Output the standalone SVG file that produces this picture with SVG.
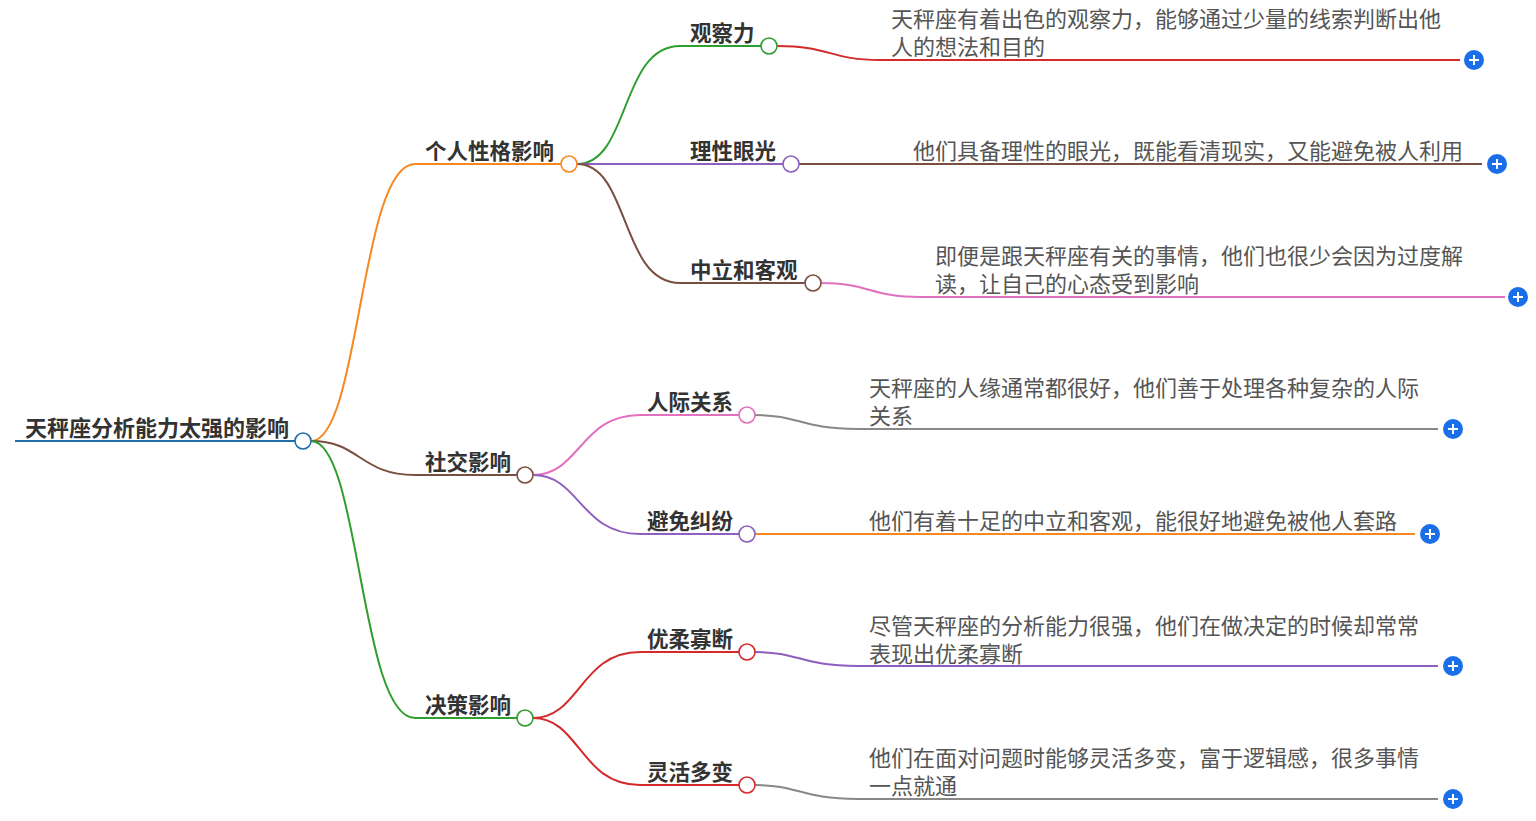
<svg xmlns="http://www.w3.org/2000/svg" width="1536" height="821" viewBox="0 0 1536 821">
<style>
.t1{font:bold 22px "Noto Sans CJK SC","Noto Sans",sans-serif;fill:#333}
.t2{font:bold 21.5px "Noto Sans CJK SC","Noto Sans",sans-serif;fill:#333}
.d{font:22px "Noto Sans CJK SC","Noto Sans",sans-serif;fill:#555}
.c{fill:#fff;stroke-width:1.6}
path{fill:none;stroke-width:2}
</style>
<rect width="1536" height="821" fill="#fff"/>
<g id="connectors">
<path d="M15 441H295" stroke="#1f6fa8" stroke-width="4"/>
<path d="M311 441C360 441 360 164 415 164H561" stroke="#f5891f"/>
<path d="M311 441C360 441 360 475 415 475H517" stroke="#7a4f3f"/>
<path d="M311 441C360 441 360 718 415 718H517" stroke="#2e9e2e"/>
<path d="M577 164C630 164 620 46 680 46H761" stroke="#2e9e2e"/>
<path d="M577 164H783" stroke="#8e5fbf"/>
<path d="M577 164C630 164 620 283 680 283H805" stroke="#7a4f3f"/>
<path d="M533 475C580 475 580 415 640 415H739" stroke="#e36fbf"/>
<path d="M533 475C580 475 580 534 640 534H739" stroke="#8e5fbf"/>
<path d="M533 718C580 718 580 652 640 652H739" stroke="#d42a2a"/>
<path d="M533 718C580 718 580 785 640 785H739" stroke="#d42a2a"/>
<path d="M777 46C830 46 830 60 880 60H1460" stroke="#d42a2a"/>
<path d="M799 164H1482" stroke="#7a4f3f"/>
<path d="M821 283C870 283 870 297 920 297H1505" stroke="#e36fbf"/>
<path d="M755 415C800 415 800 429 858 429H1438" stroke="#888"/>
<path d="M755 534H1415" stroke="#f5891f"/>
<path d="M755 652C800 652 800 666 858 666H1438" stroke="#8e5fbf"/>
<path d="M755 785C800 785 800 799 858 799H1438" stroke="#888"/>
</g>
<g id="root"><text class="t1" x="25" y="436">天秤座分析能力太强的影响</text><circle class="c" cx="303" cy="441" r="8" stroke="#1f6fa8"/></g>
<g id="n1"><text class="t2" x="425" y="159">个人性格影响</text><circle class="c" cx="569" cy="164" r="8" stroke="#f5891f"/></g>
<g id="n2"><text class="t2" x="425" y="470">社交影响</text><circle class="c" cx="525" cy="475" r="8" stroke="#7a4f3f"/></g>
<g id="n3"><text class="t2" x="425" y="713">决策影响</text><circle class="c" cx="525" cy="718" r="8" stroke="#2e9e2e"/></g>
<g id="n11"><text class="t2" x="690" y="41">观察力</text><circle class="c" cx="769" cy="46" r="8" stroke="#2e9e2e"/></g>
<g id="n12"><text class="t2" x="690" y="159">理性眼光</text><circle class="c" cx="791" cy="164" r="8" stroke="#8e5fbf"/></g>
<g id="n13"><text class="t2" x="690" y="278">中立和客观</text><circle class="c" cx="813" cy="283" r="8" stroke="#7a4f3f"/></g>
<g id="n21"><text class="t2" x="647" y="410">人际关系</text><circle class="c" cx="747" cy="415" r="8" stroke="#e36fbf"/></g>
<g id="n22"><text class="t2" x="647" y="529">避免纠纷</text><circle class="c" cx="747" cy="534" r="8" stroke="#8e5fbf"/></g>
<g id="n31"><text class="t2" x="647" y="647">优柔寡断</text><circle class="c" cx="747" cy="652" r="8" stroke="#d42a2a"/></g>
<g id="n32"><text class="t2" x="647" y="780">灵活多变</text><circle class="c" cx="747" cy="785" r="8" stroke="#d42a2a"/></g>
<g id="d11"><text class="d" x="891" y="27">天秤座有着出色的观察力，能够通过少量的线索判断出他</text><text class="d" x="891" y="55">人的想法和目的</text></g>
<g id="d12"><text class="d" x="913" y="159">他们具备理性的眼光，既能看清现实，又能避免被人利用</text></g>
<g id="d13"><text class="d" x="935" y="264">即便是跟天秤座有关的事情，他们也很少会因为过度解</text><text class="d" x="935" y="292">读，让自己的心态受到影响</text></g>
<g id="d21"><text class="d" x="869" y="396">天秤座的人缘通常都很好，他们善于处理各种复杂的人际</text><text class="d" x="869" y="424">关系</text></g>
<g id="d22"><text class="d" x="869" y="529">他们有着十足的中立和客观，能很好地避免被他人套路</text></g>
<g id="d31"><text class="d" x="869" y="634">尽管天秤座的分析能力很强，他们在做决定的时候却常常</text><text class="d" x="869" y="662">表现出优柔寡断</text></g>
<g id="d32"><text class="d" x="869" y="766">他们在面对问题时能够灵活多变，富于逻辑感，很多事情</text><text class="d" x="869" y="794">一点就通</text></g>
<defs><g id="plus"><circle r="10" fill="#1a6fe8"/><path d="M-5 0H5M0-5V5" stroke="#fff" stroke-width="2"/></g></defs>
<g id="plusicons">
<use href="#plus" x="1474" y="60"/><use href="#plus" x="1497" y="164"/><use href="#plus" x="1518" y="297"/>
<use href="#plus" x="1453" y="429"/><use href="#plus" x="1430" y="534"/><use href="#plus" x="1453" y="666"/><use href="#plus" x="1453" y="799"/>
</g>
</svg>
